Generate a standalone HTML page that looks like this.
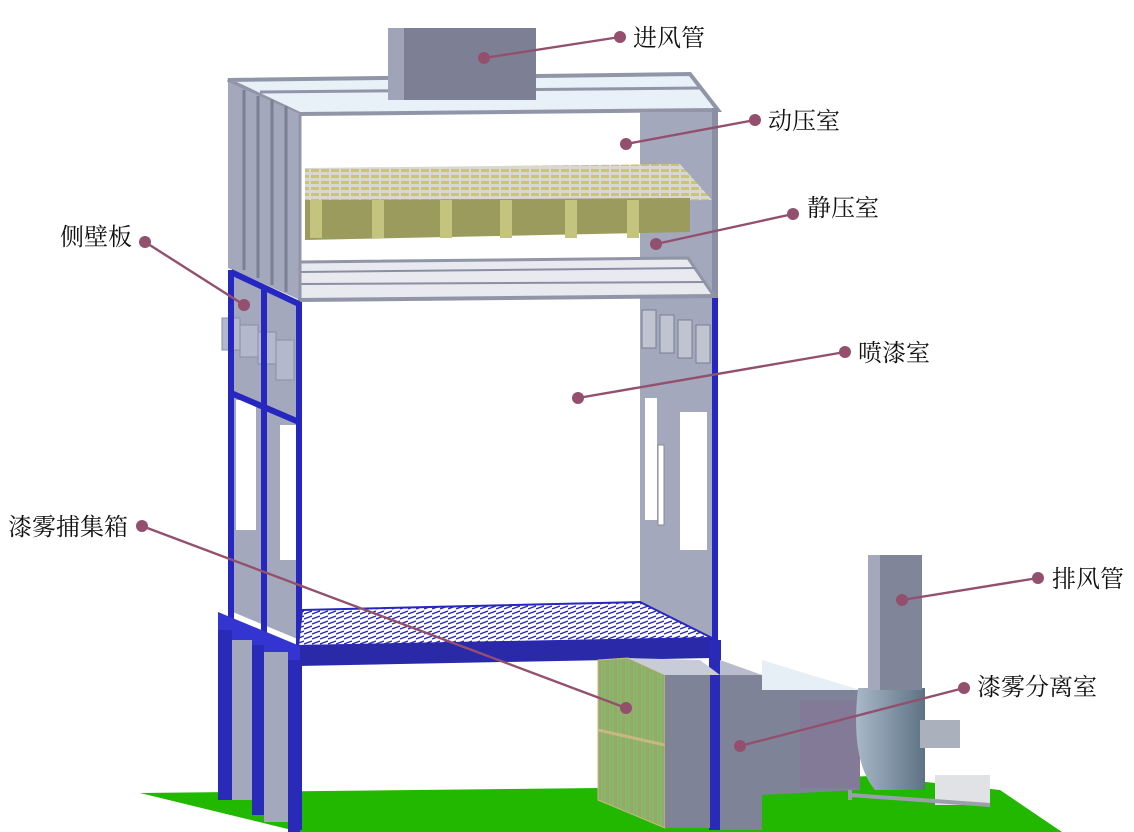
<!DOCTYPE html>
<html><head><meta charset="utf-8"><style>
html,body{margin:0;padding:0;background:#fff;}
svg{display:block}
text{font-family:"Liberation Serif","Noto Serif CJK SC",serif;font-size:24px;fill:#111;}
</style></head><body>
<svg width="1134" height="832" viewBox="0 0 1134 832" xmlns="http://www.w3.org/2000/svg">
<defs>
<pattern id="grate" width="8" height="5" patternUnits="userSpaceOnUse">
<rect width="8" height="5" fill="#fff"/><path d="M0 4 L8 1" stroke="#2a2ab8" stroke-width="1.4"/></pattern>
<pattern id="filt" width="8" height="10" patternUnits="userSpaceOnUse">
<rect width="8" height="10" fill="#9aa66a"/><path d="M2 0 V10 M5 0 V10" stroke="#6fd06a" stroke-width="1"/></pattern>
<pattern id="coil" width="10" height="6" patternUnits="userSpaceOnUse">
<rect width="10" height="6" fill="#d8d8d0"/><rect x="1" y="1" width="8" height="3" fill="#c9c76a"/></pattern>
<linearGradient id="fan" x1="0" x2="1"><stop offset="0" stop-color="#a8b8c8"/><stop offset="1" stop-color="#5d7284"/></linearGradient>
</defs>
<!-- ground -->
<polygon points="140,793 600,788 870,776 1000,790 1062,832 300,832" fill="#22b800"/>
<!-- top roof -->
<polygon points="228,80 690,74 718,110 300,114" fill="#e8f0f8" stroke="#9095a8" stroke-width="4"/>
<line x1="260" y1="92" x2="700" y2="88" stroke="#9095a8" stroke-width="3"/>
<!-- inlet duct -->
<rect x="388" y="28" width="148" height="72" fill="#7d8094"/>
<rect x="388" y="28" width="16" height="72" fill="#a0a4b8"/>
<!-- left upper side panel -->
<polygon points="228,82 300,114 300,300 228,268" fill="#a3a8bc"/>
<g stroke="#7a7f94" stroke-width="3"><line x1="244" y1="90" x2="244" y2="270"/><line x1="258" y1="96" x2="258" y2="278"/><line x1="272" y1="100" x2="272" y2="285"/><line x1="286" y1="106" x2="286" y2="292"/></g>
<!-- right panel -->
<rect x="640" y="112" width="74" height="528" fill="#a3a8bc"/>
<rect x="712" y="108" width="6" height="190" fill="#8a8fa4"/>
<rect x="645" y="398" width="12" height="122" fill="#fff"/>
<rect x="680" y="412" width="27" height="138" fill="#fff"/>
<rect x="658" y="445" width="6" height="80" fill="#fff" stroke="#888"/>
<g fill="#c0c4d0" stroke="#7a7f94"><rect x="642" y="310" width="14" height="38"/><rect x="660" y="315" width="14" height="38"/><rect x="678" y="320" width="14" height="38"/><rect x="696" y="325" width="14" height="38"/></g>
<!-- filter coils -->
<polygon points="305,168 680,164 712,200 305,205" fill="url(#coil)"/>
<polygon points="305,200 690,198 690,232 305,240" fill="#9b9b5e"/>
<g fill="#c4c47e"><rect x="310" y="200" width="12" height="38"/><rect x="372" y="200" width="12" height="38"/><rect x="440" y="200" width="12" height="38"/><rect x="500" y="200" width="12" height="38"/><rect x="565" y="200" width="12" height="38"/><rect x="627" y="200" width="12" height="38"/></g>
<!-- grid lower -->
<polygon points="300,262 688,258 714,296 300,300" fill="#e8eaf0" stroke="#9095a8" stroke-width="3"/>
<g stroke="#8a8fa4" stroke-width="2"><line x1="300" y1="272" x2="695" y2="268"/><line x1="300" y1="284" x2="705" y2="282"/></g>
<line x1="298" y1="300" x2="716" y2="296" stroke="#9095a8" stroke-width="4"/>
<line x1="300" y1="114" x2="300" y2="300" stroke="#9095a8" stroke-width="3"/>
<!-- left lower wall -->
<polygon points="228,270 300,302 300,640 228,610" fill="#a3a8bc"/>
<rect x="236" y="400" width="20" height="130" fill="#fff"/>
<rect x="280" y="425" width="16" height="135" fill="#fff"/>
<g fill="#b4b8cc" stroke="#8a8fa4"><rect x="222" y="318" width="18" height="32"/><rect x="240" y="325" width="18" height="32"/><rect x="258" y="332" width="18" height="32"/><rect x="276" y="340" width="18" height="40"/></g>
<g stroke="#2626c0" stroke-width="6" fill="none">
<line x1="231" y1="270" x2="231" y2="800"/><line x1="299" y1="302" x2="299" y2="830"/>
<line x1="231" y1="272" x2="299" y2="304"/><line x1="231" y1="393" x2="299" y2="422"/>
<line x1="264" y1="286" x2="264" y2="800"/><line x1="715" y1="298" x2="715" y2="830"/>
</g>
<!-- floor grating -->
<polygon points="302,610 640,602 712,638 298,646" fill="url(#grate)" stroke="#2626c0" stroke-width="2"/>
<!-- beams -->
<polygon points="298,645 712,638 712,658 298,666" fill="#2a2aa8"/>
<polygon points="218,612 300,646 300,668 218,634" fill="#3434d0"/>
<g fill="#2a2ab8"><rect x="218" y="630" width="14" height="170"/><rect x="252" y="645" width="12" height="170"/><rect x="288" y="660" width="12" height="172"/><rect x="709" y="640" width="12" height="190"/></g>
<g fill="#a3a8bc"><rect x="232" y="640" width="20" height="160"/><rect x="264" y="652" width="24" height="170"/></g>
<!-- separator boxes -->
<polygon points="598,660 628,658 665,675 665,828 598,800" fill="url(#filt)" stroke="#c8b880"/>
<line x1="598" y1="730" x2="665" y2="745" stroke="#c8b880" stroke-width="3"/>
<polygon points="628,658 700,660 720,675 665,675" fill="#c8ccd8"/>
<rect x="665" y="675" width="45" height="153" fill="#7f8398"/>
<rect x="720" y="675" width="42" height="155" fill="#7f8398"/>
<polygon points="720,660 762,675 720,675" fill="#b8bccc"/>
<polygon points="762,690 860,690 860,790 762,795" fill="#7f8398"/>
<polygon points="762,660 860,690 762,690" fill="#e6eef6"/>
<rect x="800" y="700" width="60" height="88" fill="#837a98"/>
<!-- fan -->
<path d="M858,688 L925,688 L925,790 L875,790 Q850,760 858,688 Z" fill="url(#fan)"/>
<rect x="868" y="555" width="54" height="135" fill="#80859a"/>
<rect x="868" y="555" width="12" height="135" fill="#a4a8bc"/>
<rect x="920" y="720" width="40" height="28" fill="#aab0bc"/>
<rect x="935" y="775" width="55" height="30" fill="#e0e2e6"/>
<path d="M850,795 L990,805 M850,790 L850,800" stroke="#9aa0aa" stroke-width="4"/>
<!-- leader lines -->
<g stroke="#93506e" stroke-width="2.4"><line x1="484" y1="58" x2="620" y2="37"/><line x1="626" y1="144" x2="755" y2="120"/><line x1="656" y1="244" x2="793" y2="214"/><line x1="244" y1="305" x2="145" y2="242"/><line x1="578" y1="398" x2="845" y2="352"/><line x1="626" y1="708" x2="142" y2="526"/><line x1="902" y1="600" x2="1038" y2="578"/><line x1="740" y1="746" x2="964" y2="688"/></g>
<g fill="#93506e"><circle cx="484" cy="58" r="6"/><circle cx="620" cy="37" r="6"/><circle cx="626" cy="144" r="6"/><circle cx="755" cy="120" r="6"/><circle cx="656" cy="244" r="6"/><circle cx="793" cy="214" r="6"/><circle cx="244" cy="305" r="6"/><circle cx="145" cy="242" r="6"/><circle cx="578" cy="398" r="6"/><circle cx="845" cy="352" r="6"/><circle cx="626" cy="708" r="6"/><circle cx="142" cy="526" r="6"/><circle cx="902" cy="600" r="6"/><circle cx="1038" cy="578" r="6"/><circle cx="740" cy="746" r="6"/><circle cx="964" cy="688" r="6"/></g>
<text x="633" y="46">进风管</text>
<text x="768" y="129">动压室</text>
<text x="807" y="216">静压室</text>
<text x="60" y="245">侧壁板</text>
<text x="858" y="361">喷漆室</text>
<text x="8" y="535">漆雾捕集箱</text>
<text x="1052" y="587">排风管</text>
<text x="977" y="695">漆雾分离室</text>
</svg>
</body></html>
